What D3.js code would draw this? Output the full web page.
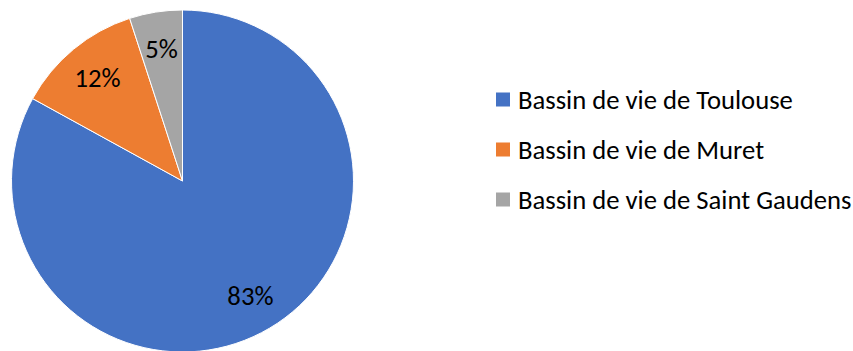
<!DOCTYPE html>
<html>
<head>
<meta charset="utf-8">
<script src="https://cdn.jsdelivr.net/npm/d3@7"></script>
<style>
  html, body { margin: 0; padding: 0; background: #fff; }
  svg { display: block; }
  text { font-family: Calibri, Carlito, Lato, "Open Sans", sans-serif; fill: #000; }
</style>
</head>
<body>
<svg id="chart" width="853" height="351"></svg>
<script>
// Répartition par bassin de vie (parts en %)
const categories = ["Bassin de vie de Toulouse", "Bassin de vie de Muret", "Bassin de vie de Saint Gaudens"];
const values = [83, 12, 5];
const labels = ["83%", "12%", "5%"];
const colors = ["#4472C4", "#ED7D31", "#A5A5A5"];

const svg = d3.select("#chart");
const W = 853, H = 351;
const cx = 182.5, cy = 181, R = 171;

const pie = d3.pie().sort(null).value(d => d)
  .startAngle(0).endAngle(2 * Math.PI);
const arcs = pie(values);

const arc = d3.arc().innerRadius(0).outerRadius(R);
const labelArc = d3.arc().innerRadius(R * 0.78).outerRadius(R * 0.78);

const g = svg.append("g").attr("transform", `translate(${cx},${cy})`);

g.selectAll("path.slice")
  .data(arcs)
  .join("path")
  .attr("class", "slice")
  .attr("d", arc)
  .attr("fill", (d, i) => colors[i])
  .attr("stroke", "#fff")
  .attr("stroke-width", 1)
  .attr("stroke-linejoin", "round");

// Fit font size so text metrics follow the layout width
const probe = svg.append("text").attr("font-size", 24).text(categories[0]);
const probeW = probe.node().getComputedTextLength();
probe.remove();
const fs = Math.max(18, Math.min(28, 24 * 275 / probeW));

g.selectAll("text.pct")
  .data(arcs)
  .join("text")
  .attr("class", "pct")
  .attr("transform", d => {
    const [x, y] = labelArc.centroid(d);
    return `translate(${x},${y})`;
  })
  .attr("text-anchor", "middle")
  .attr("dominant-baseline", "central")
  .attr("font-size", fs)
  .text((d, i) => labels[i]);

// Legend
const legendY = d3.scalePoint().domain(categories).range([100, 200]);
const lg = svg.append("g");
const items = lg.selectAll("g.item")
  .data(categories)
  .join("g")
  .attr("class", "item")
  .attr("transform", d => `translate(496,${legendY(d)})`);

items.append("rect")
  .attr("x", 0).attr("y", -7.5)
  .attr("width", 14).attr("height", 14)
  .attr("fill", (d, i) => colors[i]);

items.append("text")
  .attr("x", 22)
  .attr("y", 0)
  .attr("dominant-baseline", "central")
  .attr("font-size", fs)
  .text(d => d);
</script>
</body>
</html>
